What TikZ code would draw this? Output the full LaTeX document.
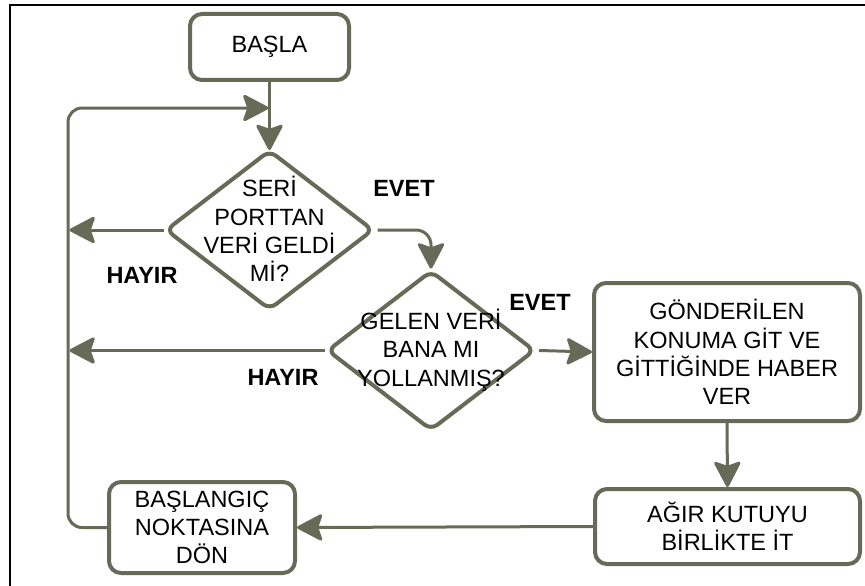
\documentclass[tikz,border=0pt]{standalone}
\usepackage{fontspec}
\setmainfont{Liberation Sans}
\usetikzlibrary{arrows.meta,shapes.geometric}
\definecolor{flow}{RGB}{102,106,86}
\begin{document}
\begin{tikzpicture}[x=1pt,y=-1pt,
  every node/.style={font=\fontsize{23.5}{28.3}\selectfont, align=center},
  stepbox/.style={draw=flow, line width=4pt, rounded corners=12pt, fill=white, inner sep=0pt},
  decision/.style={draw=flow, line width=4pt, diamond, rounded corners=8pt,
    minimum width=208pt, minimum height=160pt, inner sep=0pt},
  conn/.style={draw=flow, line width=3pt,
    -{Stealth[length=28pt,width=29pt,inset=5pt,round]}},
  plain/.style={draw=flow, line width=3pt},
  answer/.style={font=\fontsize{23.5}{28.3}\selectfont\bfseries}]
\useasboundingbox (0,0) rectangle (865,586);
% frame
\draw[black, line width=2.2pt] (10,600) -- (10,5) -- (880,5);

% boxes
\node[stepbox, minimum width=159pt, minimum height=66pt] (start) at (269.5,47) {BAŞLA};
\node[decision] (d1) at (269.5,230) {};
\node at (269.5,229) {SERİ\\PORTTAN\\VERİ GELDİ\\Mİ?};
\node[decision] (d2) at (431,350.5) {};
\node at (431,350) {GELEN VERİ\\BANA MI\\YOLLANMIŞ?};
\node[stepbox, minimum width=266pt, minimum height=138pt] (go) at (727,352) {GÖNDERİLEN\\KONUMA GİT VE\\GİTTİĞİNDE HABER\\VER};
\node[stepbox, minimum width=265pt, minimum height=75pt] (push) at (727.5,526.5) {AĞIR KUTUYU\\BİRLİKTE İT};
\node[stepbox, minimum width=186pt, minimum height=91pt] (back) at (202,527.5) {BAŞLANGIÇ\\NOKTASINA\\DÖN};

% helper points
\coordinate (no1) at (69.5,230);
\coordinate (no2) at (69.5,350.5);
\coordinate (rail) at (68,108);
\coordinate (join) at (268.5,108);

% connectors
\draw[conn] (start.south) -- ([yshift=-2pt]d1.north);
\draw[conn] (d1.west) -- (no1);
\draw[conn, rounded corners=15pt] ([xshift=2pt]d1.east) -| (d2.north);
\draw[conn] (d2.west) -- (no2);
\draw[conn] ([xshift=2pt]d2.east) -- (go.west);
\draw[conn] (go.south) -- (push.north);
\draw[conn] (push.west) -- (back.east);
\draw[conn, rounded corners=14pt] (back.west) -| (rail) -- (join);

% answers
\node[answer] (yes1) at (404,188) {EVET};
\node[answer] (no1t) at (142,275) {HAYIR};
\node[answer] (yes2) at (540,302) {EVET};
\node[answer] (no2t) at (283,377) {HAYIR};
\end{tikzpicture}
\end{document}
